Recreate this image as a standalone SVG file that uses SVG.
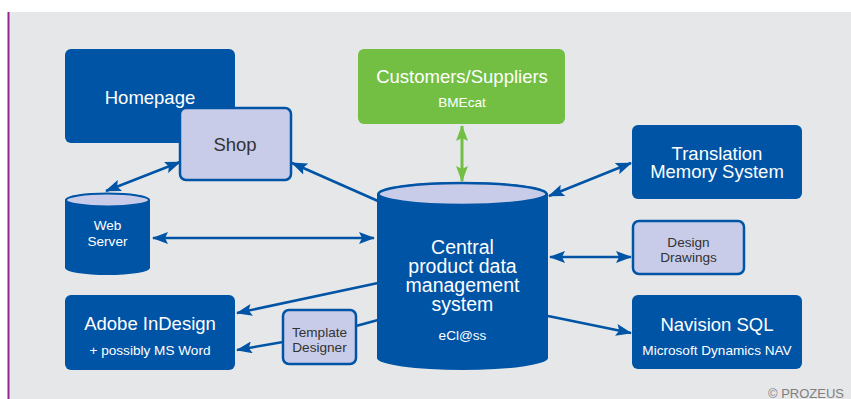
<svg xmlns="http://www.w3.org/2000/svg" width="851" height="399" viewBox="0 0 851 399">
<style>
.dark{fill:#0054a6}
.light{fill:#c8cce8;stroke:#0054a6;stroke-width:2.5}
.t{font-family:"Liberation Sans",Arial,sans-serif;text-anchor:middle}
.w{fill:#ffffff}
.k{fill:#333333}
.big{font-size:18.5px}
.sm{font-size:13.6px}
.c{fill:none;stroke:#0054a6;stroke-width:2.5}
.g{fill:none;stroke:#72bf44;stroke-width:3}
</style>
<defs>
<marker id="ah" markerUnits="userSpaceOnUse" markerWidth="16" markerHeight="12" refX="15" refY="6" orient="auto-start-reverse" viewBox="0 0 16 12">
<path d="M0,0 L16,6 L0,12 L3,6 Z" fill="#0054a6"/>
</marker>
<marker id="ag" markerUnits="userSpaceOnUse" markerWidth="16" markerHeight="12" refX="15" refY="6" orient="auto-start-reverse" viewBox="0 0 16 12">
<path d="M0,0 L16,6 L0,12 L3,6 Z" fill="#72bf44"/>
</marker>
</defs>
<rect x="0" y="0" width="851" height="399" fill="#ffffff"/>
<rect x="8" y="12" width="843" height="387" fill="#e6e7e9"/>
<rect x="7.5" y="12" width="2" height="387" fill="#93278f"/>

<g id="connectors">
<line class="c" x1="180" y1="162" x2="106" y2="191" marker-start="url(#ah)" marker-end="url(#ah)"/>
<line class="c" x1="378" y1="201" x2="292" y2="163" marker-end="url(#ah)"/>
<line class="c" x1="153" y1="238" x2="374" y2="238" marker-start="url(#ah)" marker-end="url(#ah)"/>
<line class="c" x1="378" y1="283" x2="237" y2="313" marker-end="url(#ah)"/>
<line class="c" x1="378" y1="320" x2="356" y2="326"/>
<line class="c" x1="283" y1="342" x2="237" y2="350" marker-end="url(#ah)"/>
<line class="c" x1="549" y1="196" x2="631" y2="163" marker-start="url(#ah)" marker-end="url(#ah)"/>
<line class="c" x1="550" y1="257" x2="631" y2="257" marker-start="url(#ah)" marker-end="url(#ah)"/>
<line class="c" x1="548" y1="316" x2="631" y2="333" marker-end="url(#ah)"/>
<line class="g" x1="462" y1="126" x2="462" y2="181" marker-start="url(#ag)" marker-end="url(#ag)"/>
</g>

<g id="homepage">
<rect class="dark" x="65" y="49" width="170" height="94" rx="6"/>
<text class="t w big" x="150" y="103.5">Homepage</text>
</g>
<g id="shop">
<rect class="light" x="180" y="108" width="111" height="72" rx="6"/>
<text class="t k big" x="235" y="150.5">Shop</text>
</g>
<g id="customers">
<rect x="358" y="49" width="207" height="75" rx="6" fill="#72bf44"/>
<text class="t w big" x="462" y="82.5">Customers/Suppliers</text>
<text class="t w sm" x="462" y="107">BMEcat</text>
</g>
<g id="webserver">
<path class="dark" d="M65,200 A42.5,7 0 0 1 150,200 L150,268 A42.5,7 0 0 1 65,268 Z"/>
<ellipse cx="107.5" cy="200" rx="41.5" ry="6.5" fill="#c8cce8" stroke="#0054a6" stroke-width="2"/>
<text class="t w sm" x="107.5" y="230">Web</text>
<text class="t w sm" x="107.5" y="246">Server</text>
</g>
<g id="central">
<path class="dark" d="M377,194 A85.5,12 0 0 1 548,194 L548,358 A85.5,12 0 0 1 377,358 Z"/>
<ellipse cx="462.5" cy="194" rx="84" ry="11" fill="#c8cce8" stroke="#0054a6" stroke-width="2.5"/>
<text class="t w" x="462.5" y="254" font-size="19.5">Central</text>
<text class="t w" x="462.5" y="273" font-size="19.5">product data</text>
<text class="t w" x="462.5" y="292" font-size="19.5">management</text>
<text class="t w" x="462.5" y="311" font-size="19.5">system</text>
<text class="t w sm" x="462.5" y="340">eCl@ss</text>
</g>
<g id="translation">
<rect class="dark" x="632" y="125" width="170" height="74" rx="6"/>
<text class="t w big" x="717" y="159.5">Translation</text>
<text class="t w big" x="717" y="177.5">Memory System</text>
</g>
<g id="design">
<rect class="light" x="633" y="221" width="111" height="53" rx="6"/>
<text class="t k sm" x="688.5" y="247">Design</text>
<text class="t k sm" x="688.5" y="262">Drawings</text>
</g>
<g id="navision">
<rect class="dark" x="632" y="295" width="170" height="74" rx="6"/>
<text class="t w big" x="717" y="330.5">Navision SQL</text>
<text class="t w sm" x="717" y="355">Microsoft Dynamics NAV</text>
</g>
<g id="indesign">
<rect class="dark" x="65" y="295" width="170" height="75" rx="6"/>
<text class="t w big" x="150" y="329.5">Adobe InDesign</text>
<text class="t w sm" x="150" y="355">+ possibly MS Word</text>
</g>
<g id="template">
<rect class="light" x="283" y="310" width="73" height="54" rx="6"/>
<text class="t k sm" x="319.5" y="337">Template</text>
<text class="t k sm" x="319.5" y="352">Designer</text>
</g>
<text x="768" y="398" font-family="Liberation Sans,Arial,sans-serif" font-size="13" fill="#808080">© PROZEUS</text>
</svg>
